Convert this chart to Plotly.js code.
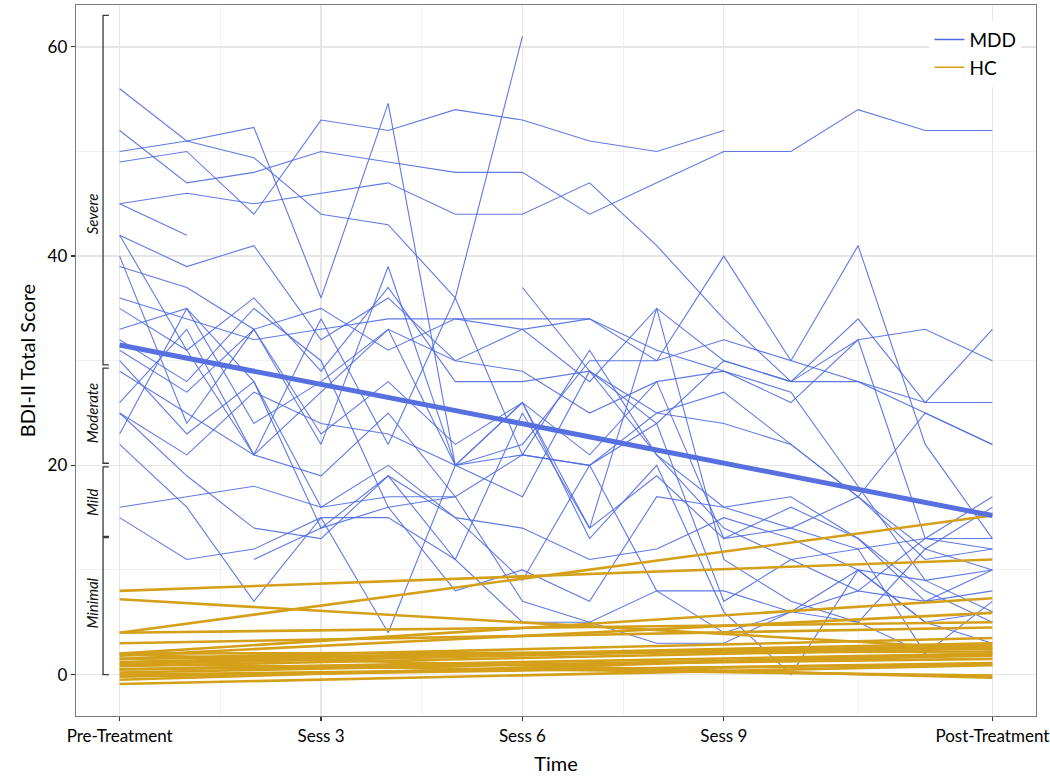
<!DOCTYPE html>
<html>
<head>
<meta charset="utf-8">
<script src="https://cdn.plot.ly/plotly-3.0.1.min.js"></script>
<style>html,body{margin:0;padding:0;background:#fff}</style>
</head>
<body>
<div id="chart" style="width:1050px;height:779px"></div>
<script>
// Time points: Pre-Treatment, Sess 1..12, Post-Treatment
const timeIndex = [0,1,2,3,4,5,6,7,8,9,10,11,12,13];
const tickPositions = [0,3,6,9,13];
const tickLabels = ["Pre-Treatment","Sess 3","Sess 6","Sess 9","Post-Treatment"];
const minorPositions = [1.5,4.5,7.5,11];
const yTicks = [0,20,40,60];
const yMinor = [10,30,50];

// MDD individual BDI-II scores per time point (null = not measured)
const mddScores = [
  [56, 51, 49.4, 44, 43, 36, 61],
  [52, 47, 48, 50, 49, 48, 48, 44, 47, 50, 50, 54, 52, 52],
  [50, 51, 52.3, 36, 54.6, 20, 21, 20, 24, 30, 28, 28, 25, 22],
  [49, 50, 44, 53, 52, 54, 53, 51, 50, 52],
  [45, 46, 45, 46, 47, 44, 44, 47, 41, 34, 28, 32, 33, 30],
  [45, 42],
  [42, 31, 21, 19, 25, 17, 21, 20, 25, 27, 22, 17, 12, 10],
  [42, 39, 41, 32, 36, 30, 33, 28, 35, 30, 28, 34, 26, 33],
  [40, 24, 33, 22, 39, 20, 22, 30, 30, 40, 30, 41, 22, 13],
  [39, 37, 33, 35, 31, 34, 34, 34, 31, 29, 27, 18, 9, 6],
  [36, 34, 32, 33, 34, 34, 33, 34, 30, 32, 30, 28, 26, 26],
  [35, 31, 36, 29, 37, 28, 28, 29, 25, 24, 22, 17, 25, 22],
  [33, 35, 24, 28, 33, 30, 29, 25, 28, 29, 26, 32, 13, 12],
  [32, 28, 35, 30, 16, 8, 10, 7, 17, 16, 17, 13, 7, 10],
  [31, 27, 33, 23, 28, 22, 26, 21, 28, 13, 16, 13, 8, 5],
  [30, 23, 28, 16, 20, 15, 14, 11, 12, 15, 13, 10, 5, 3],
  [29, 25, 21, 34, 22, 36, 21, 31, 21, 14, 11, 12, 2, 7],
  [26, 33, 21, 27, 33, 20, 17, 29, 24, 7, 11, 8, 13, 17],
  [25, 21, 27, 24, 23, 20, 26, 14, 19, 13, 14, 17, 11, 12],
  [25, 19, 14, 13, 19, 11, 25, 14, 35, 11, 7, 5, 12, 16],
  [23, 35, 28, 14, 19, 15, 9, 20, 8, 8, 6, 10, 5, 6],
  [22, 16, 7, 15, 4, 20, 26, 13, 20, 6, 0, 10, 9, 10],
  [16, 17, 18, 16, 17, 17, 7, 5, 3, 3, 6, 5, 2],
  [15, 11, 12, 15, 15, 11, 5, 5, 8, 4, 6, 8, 7, 8],
  [null, null, 11, 14, 16, 17],
  [null, null, null, null, null, null, 37, 29, 21, 16, 14, 12, 13, 13]
];

// MDD group linear trend (Pre -> Post)
const mddTrendX = [0, 13];
const mddTrendY = [31.5, 15.2];

// HC scores: measured at Pre-Treatment and Post-Treatment only
const hcX = [0, 13];
const hcPre  = [8.0, 7.2, 4.0, 4.0, 3.0, 2.0, 1.8, 1.5, 1.2, 1.0, 0.8, 2.0, 0.5, 0.2, 0.0, -0.2, -0.5, -0.9, 1.9, 1.0, 0.5, 1.5];
const hcPost = [11.0, 2.4, 15.2, 5.0, 4.5, 7.3, 5.9, 3.5, 3.0, 2.8, 2.5, 2.2, 2.0, 1.8, 1.0, 1.1, 2.0, 0.9, -0.3, -0.1, 1.5, 2.6];

// Severity bands (BDI-II)
const bandNames = ["Severe", "Moderate", "Mild", "Minimal"];
const bandLow  = [29.6, 20.2, 13.2, 0.0];
const bandHigh = [63.0, 29.3, 19.85, 13.1];
const bandLabelY = [44.0, 25.0, 16.5, 6.8];

const MDD_COLOR = "#4f6be2";
const HC_COLOR = "#d4a01a";
const FONT = "Lato, 'Open Sans', sans-serif";

const traces = [];
// legend-only entries (thin sample lines)
traces.push({x: [null], y: [null], type: "scatter", mode: "lines",
  line: {color: MDD_COLOR, width: 1.5}, name: "MDD", showlegend: true, hoverinfo: "skip"});
traces.push({x: [null], y: [null], type: "scatter", mode: "lines",
  line: {color: HC_COLOR, width: 1.5}, name: "HC", showlegend: true, hoverinfo: "skip"});

mddScores.forEach((s) => {
  traces.push({
    x: timeIndex.slice(0, s.length), y: s, type: "scatter", mode: "lines",
    line: {color: MDD_COLOR, width: 1.1}, opacity: 0.9,
    showlegend: false, hoverinfo: "skip"
  });
});
hcPre.forEach((p, i) => {
  traces.push({
    x: hcX, y: [p, hcPost[i]], type: "scatter", mode: "lines",
    line: {color: HC_COLOR, width: 2.6},
    showlegend: false, hoverinfo: "skip"
  });
});
traces.push({
  x: mddTrendX, y: mddTrendY, type: "scatter", mode: "lines",
  line: {color: "#5770e0", width: 5}, showlegend: false, hoverinfo: "skip"
});

const shapes = [];
const annotations = [];
const bx0 = -0.247, bx1 = -0.16;
bandNames.forEach((n, i) => {
  shapes.push({
    type: "path", xref: "x", yref: "y",
    path: `M ${bx1},${bandHigh[i]} L ${bx0},${bandHigh[i]} L ${bx0},${bandLow[i]} L ${bx1},${bandLow[i]}`,
    line: {color: "#3a3a3a", width: 1.3}, layer: "above"
  });
  annotations.push({
    x: -0.41, y: bandLabelY[i], xref: "x", yref: "y", text: "<i>" + n + "</i>",
    showarrow: false, textangle: -90, font: {family: FONT, size: 15, color: "#111"}
  });
});

const layout = {
  width: 1050, height: 779,
  margin: {l: 76, r: 14, t: 5, b: 63},
  paper_bgcolor: "#fff", plot_bgcolor: "#fff",
  font: {family: FONT, color: "#000"},
  showlegend: true,
  legend: {
    x: 0.889, y: 0.978, xanchor: "left", yanchor: "top",
    bgcolor: "rgba(255,255,255,1)", borderwidth: 0,
    font: {family: FONT, size: 19, color: "#000"}, tracegroupgap: 0
  },
  xaxis: {
    range: [-0.65, 13.65], tickmode: "array", tickvals: tickPositions, ticktext: tickLabels,
    showgrid: true, gridcolor: "#e6e6e6", gridwidth: 1.3,
    minor: {tickmode: "array", tickvals: minorPositions, showgrid: true, gridcolor: "#f0f0f0", gridwidth: 0.9, ticks: ""},
    zeroline: false, showline: true, mirror: true, linecolor: "#7a7a7a", linewidth: 1.3,
    ticks: "outside", ticklen: 4, tickcolor: "#333", tickwidth: 1.2,
    tickfont: {family: FONT, size: 17, color: "#000"},
    title: {text: "Time", font: {family: FONT, size: 20, color: "#000"}, standoff: 12}
  },
  yaxis: {
    range: [-3.96, 64.0], tickmode: "array", tickvals: yTicks,
    showgrid: true, gridcolor: "#e6e6e6", gridwidth: 1.3,
    minor: {tickmode: "array", tickvals: yMinor, showgrid: true, gridcolor: "#f0f0f0", gridwidth: 0.9, ticks: ""},
    zeroline: false, showline: true, mirror: true, linecolor: "#7a7a7a", linewidth: 1.3,
    ticks: "outside", ticklen: 4, tickcolor: "#333", tickwidth: 1.2,
    tickfont: {family: FONT, size: 17, color: "#000"},
    title: {text: "BDI-II Total Score", font: {family: FONT, size: 20, color: "#000"}, standoff: 6}
  },
  shapes: shapes,
  annotations: annotations
};

Plotly.newPlot("chart", traces, layout, {displayModeBar: false, staticPlot: true});
</script>
</body>
</html>
